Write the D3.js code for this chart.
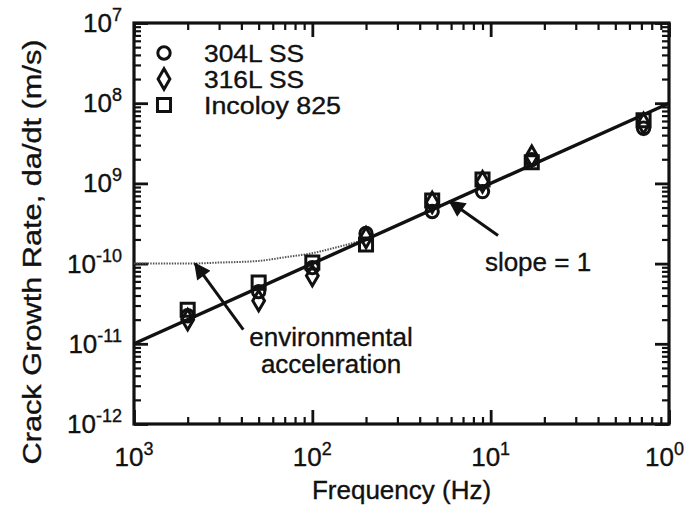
<!DOCTYPE html>
<html>
<head>
<meta charset="utf-8">
<script src="https://cdn.jsdelivr.net/npm/d3@7"></script>
<style>
  html, body { margin: 0; padding: 0; background: #fff; }
  svg text { font-family: "Liberation Sans", Arial, Helvetica, sans-serif; fill: #111; stroke: #111; stroke-width: 0.35; }
</style>
</head>
<body>
<svg id="chart" width="686" height="511"></svg>
<script>
// Test frequencies (Hz) and measured crack growth rates (m/s)
const freq    = [0.002, 0.005, 0.01, 0.02, 0.047, 0.09, 0.17, 0.72];
const ss304   = [2.24e-11, 4.47e-11, 8.9e-11, 2.37e-10, 4.47e-10, 7.9e-10, 1.98e-9, 4.87e-9];
const ss316   = [2.0e-11, 3.45e-11, 7.08e-11, 2.11e-10, 5.8e-10, 1.05e-9, 2.18e-9, 5.6e-9];
const incoloy = [2.66e-11, 5.79e-11, 1.03e-10, 1.73e-10, 6.13e-10, 1.12e-9, 1.83e-9, 6.13e-9];

// Slope = 1 reference line
const fitF    = [1e-3, 1];
const fitRate = [1e-11, 1e-8];

// Environmentally accelerated growth curve
const envF    = [0.001, 0.002, 0.003, 0.005, 0.007, 0.01, 0.013, 0.016, 0.02];
const envRate = [1.0e-10, 1.0e-10, 1.03e-10, 1.08e-10, 1.2e-10, 1.35e-10, 1.55e-10, 1.75e-10, 2.0e-10];

// Tick values and their printed exponents
const xTicks   = [1e-3, 1e-2, 1e-1, 1];
const xTickExp = ["3", "2", "1", "0"];
const yTicks   = [1e-7, 1e-8, 1e-9, 1e-10, 1e-11, 1e-12];
const yTickExp = ["7", "8", "9", "-10", "-11", "-12"];

const seriesNames = ["304L SS", "316L SS", "Incoloy 825"];
const seriesShapes = ["circle", "diamond", "square"];

const margin = { left: 134, top: 23, right: 17, bottom: 87 };
const W = 686, H = 511;
const svg = d3.select("#chart");

const x = d3.scaleLog().domain([1e-3, 1]).range([margin.left, W - margin.right]);
const y = d3.scaleLog().domain([1e-12, 1e-7]).range([H - margin.bottom, margin.top]);

const x0 = x.range()[0], x1 = x.range()[1];
const y0 = y.range()[0], y1 = y.range()[1];

// minor ticks 2..9 per decade
function minorTicks(lo, hi) {
  const out = [];
  for (let e = Math.round(Math.log10(lo)); e < Math.round(Math.log10(hi)); e++)
    for (let m = 2; m <= 9; m++) out.push(m * Math.pow(10, e));
  return out;
}
const xMinor = minorTicks(1e-3, 1);
const yMinor = minorTicks(1e-12, 1e-7);

function styleAxis(g, w) {
  g.select(".domain").remove();
  g.selectAll("line").attr("stroke", "#111").attr("stroke-width", w);
  g.selectAll("text").remove();
}

const MAJ = 14, MIN = 7;
// bottom & top
svg.append("g").attr("transform", `translate(0,${y0})`)
  .call(d3.axisBottom(x).tickValues(xTicks).tickSize(-MAJ)).call(g => styleAxis(g, 2.8));
svg.append("g").attr("transform", `translate(0,${y0})`)
  .call(d3.axisBottom(x).tickValues(xMinor).tickSize(-MIN)).call(g => styleAxis(g, 2.2));
svg.append("g").attr("transform", `translate(0,${y1})`)
  .call(d3.axisTop(x).tickValues(xTicks).tickSize(-MAJ)).call(g => styleAxis(g, 2.8));
svg.append("g").attr("transform", `translate(0,${y1})`)
  .call(d3.axisTop(x).tickValues(xMinor).tickSize(-MIN)).call(g => styleAxis(g, 2.2));
// left & right
svg.append("g").attr("transform", `translate(${x0},0)`)
  .call(d3.axisLeft(y).tickValues(yTicks).tickSize(-MAJ)).call(g => styleAxis(g, 2.8));
svg.append("g").attr("transform", `translate(${x0},0)`)
  .call(d3.axisLeft(y).tickValues(yMinor).tickSize(-MIN)).call(g => styleAxis(g, 2.2));
svg.append("g").attr("transform", `translate(${x1},0)`)
  .call(d3.axisRight(y).tickValues(yTicks).tickSize(-MAJ)).call(g => styleAxis(g, 2.8));
svg.append("g").attr("transform", `translate(${x1},0)`)
  .call(d3.axisRight(y).tickValues(yMinor).tickSize(-MIN)).call(g => styleAxis(g, 2.2));

// frame
svg.append("rect").attr("x", x0).attr("y", y1).attr("width", x1 - x0).attr("height", y0 - y1)
  .attr("fill", "none").attr("stroke", "#111").attr("stroke-width", 3.2);

// tick labels (the last one is pulled in so it stays inside the page)
xTicks.forEach((v, i) => {
  const t = svg.append("text").attr("x", x(v)).attr("y", y0 + 42)
    .attr("text-anchor", "middle").attr("font-size", 26);
  t.append("tspan").text("10");
  t.append("tspan").attr("dy", -11).attr("font-size", 18).text(xTickExp[i]);
  const bb = t.node().getBBox();
  if (bb.x + bb.width > W - 2) t.attr("x", x(v) - (bb.x + bb.width - (W - 2)));
});
yTicks.forEach((v, i) => {
  const t = svg.append("text").attr("x", x0 - 12).attr("y", y(v) + 9)
    .attr("text-anchor", "end").attr("font-size", 26);
  t.append("tspan").text("10");
  t.append("tspan").attr("dy", -11).attr("font-size", 18).text(yTickExp[i]);
});

// axis titles
svg.append("text").attr("x", (x0 + x1) / 2).attr("y", H - 12)
  .attr("text-anchor", "middle").attr("font-size", 26).text("Frequency (Hz)");
svg.append("text").attr("transform", `translate(41,252) rotate(-90)`)
  .attr("text-anchor", "middle").attr("font-size", 26)
  .attr("textLength", 425).attr("lengthAdjust", "spacingAndGlyphs")
  .text("Crack Growth Rate, da/dt (m/s)");

// environmental acceleration curve
const line = d3.line().x(d => x(d[0])).y(d => y(d[1]));
svg.append("path")
  .datum(envF.map((f, i) => [f, envRate[i]]))
  .attr("d", line.curve(d3.curveMonotoneX))
  .attr("fill", "none").attr("stroke", "#555").attr("stroke-width", 2)
  .attr("stroke-dasharray", "1.5,1.2");

// slope = 1 line
svg.append("path")
  .datum(fitF.map((f, i) => [f, fitRate[i]]))
  .attr("d", d3.line().x(d => x(d[0])).y(d => y(d[1])))
  .attr("fill", "none").attr("stroke", "#111").attr("stroke-width", 3.4);

// markers
const sym = {
  circle: d3.symbol().type(d3.symbolCircle).size(120),
  diamond: d3.symbol().type(d3.symbolDiamond).size(120),
  square: d3.symbol().type(d3.symbolSquare).size(170)
};
const allSeries = [ss304, ss316, incoloy];
allSeries.forEach((vals, si) => {
  svg.append("g").selectAll("path")
    .data(freq.map((f, i) => [f, vals[i]]))
    .join("path")
    .attr("transform", d => `translate(${x(d[0])},${y(d[1])})`)
    .attr("d", sym[seriesShapes[si]]())
    .attr("fill", "none").attr("stroke", "#111").attr("stroke-width", 3);
});

// legend
seriesNames.forEach((name, i) => {
  const ly = 53 + i * 26;
  svg.append("path").attr("transform", `translate(164,${ly})`)
    .attr("d", sym[seriesShapes[i]]())
    .attr("fill", "none").attr("stroke", "#111").attr("stroke-width", 3);
  svg.append("text").attr("x", 204).attr("y", ly + 8.5).attr("font-size", 23)
    .attr("textLength", name === "Incoloy 825" ? 137 : 100).attr("lengthAdjust", "spacingAndGlyphs")
    .text(name);
});

// annotation arrows
const defs = svg.append("defs");
defs.append("marker").attr("id", "head").attr("viewBox", "0 0 10 10")
  .attr("refX", 9).attr("refY", 5).attr("markerWidth", 7).attr("markerHeight", 5.5)
  .attr("orient", "auto").attr("markerUnits", "strokeWidth")
  .append("path").attr("d", "M0,0 L10,5 L0,10 Z").attr("fill", "#111");

const arrows = [
  { from: [0.0041, 1.5e-11], to: [0.0022, 1.0e-10] },
  { from: [0.110, 2.24e-10], to: [0.059, 5.96e-10] }
];
arrows.forEach(a => {
  svg.append("line")
    .attr("x1", x(a.from[0])).attr("y1", y(a.from[1]))
    .attr("x2", x(a.to[0])).attr("y2", y(a.to[1]))
    .attr("stroke", "#111").attr("stroke-width", 3).attr("marker-end", "url(#head)");
});

// annotation labels
svg.append("text").attr("x", 331).attr("y", 346).attr("text-anchor", "middle")
  .attr("font-size", 26).text("environmental");
svg.append("text").attr("x", 331).attr("y", 373).attr("text-anchor", "middle")
  .attr("font-size", 26).text("acceleration");
svg.append("text").attr("x", 538).attr("y", 271).attr("text-anchor", "middle")
  .attr("font-size", 26).text("slope = 1");
</script>
</body>
</html>
